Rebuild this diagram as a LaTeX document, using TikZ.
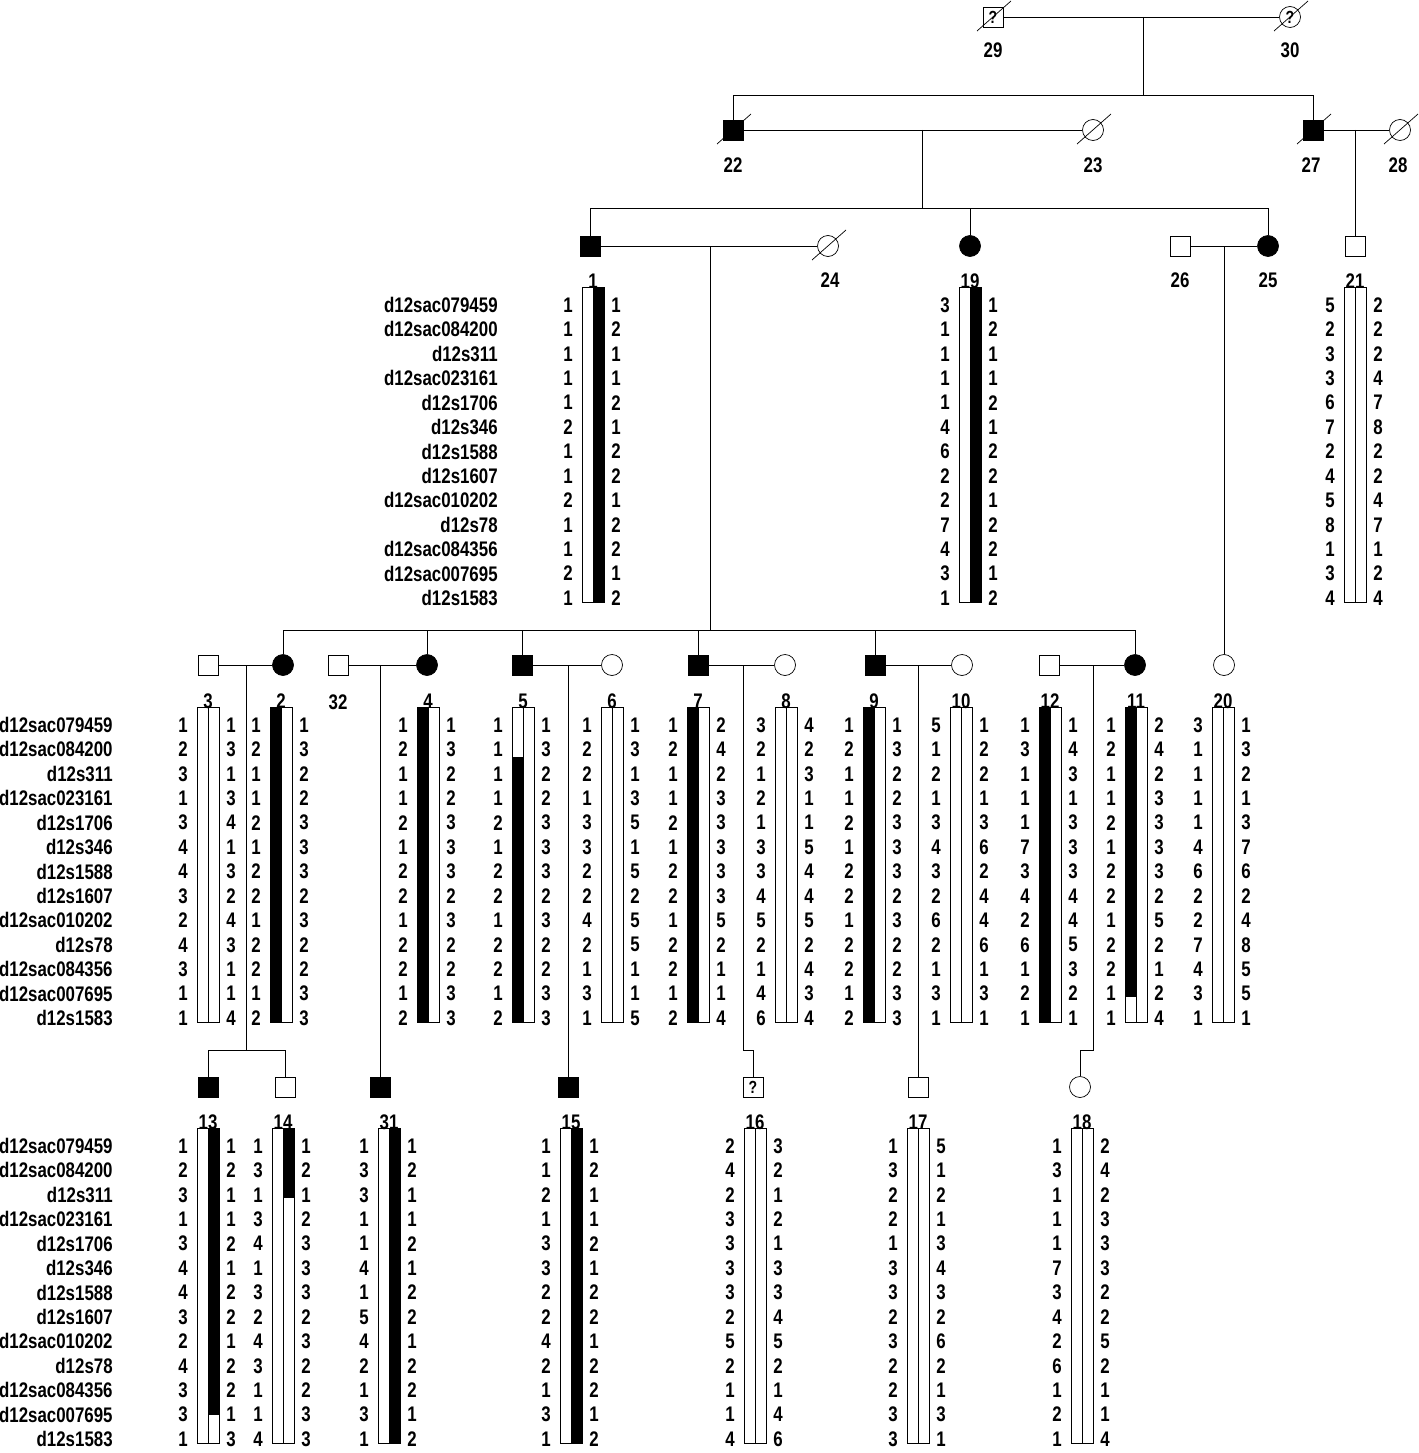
\documentclass[tikz,border=0pt]{standalone}
\usepackage{fontspec}
\setmainfont{Liberation Sans}[FakeStretch=0.8]
\usetikzlibrary{positioning}

\tikzset{
  every node/.append style={font=\fontsize{12}{12}\bfseries\selectfont},
  male/.style={draw,rectangle,minimum size=0.4cm,inner sep=0pt},
  female/.style={draw,circle,minimum size=0.42cm,inner sep=0pt},
  aff/.style={fill=black},
  qm/.style={font=\fontsize{10}{10}\bfseries\selectfont},
  bar/.style={draw,fill=white,line width=0.5pt},
  al/.style={inner sep=0pt},
  lab/.style={inner sep=0pt},
  mk/.style={inner sep=0pt,anchor=east}
}
% haplotype: split x, first row y, left alleles, right alleles, name, label
\newcommand{\hap}[6]{%
  \draw[bar] (#1-11,#2-18) rectangle (#1,#2+297);
  \draw[bar] (#1,#2-18) rectangle (#1+11,#2+297);
  \foreach \a [count=\i from 0] in {#3} \node[al] at (#1-25,#2+\i*24.42) {\a};
  \foreach \a [count=\i from 0] in {#4} \node[al] at (#1+23,#2+\i*24.42) {\a};
  \node[lab] (#5) at (#1,#2-24) {#6};}
\newcommand{\markers}[2]{%
  \foreach \m [count=\i from 0] in {d12sac079459,d12sac084200,d12s311,d12sac023161,d12s1706,d12s346,d12s1588,d12s1607,d12sac010202,d12s78,d12sac084356,d12sac007695,d12s1583}
    \node[mk] at (#1,#2+\i*24.42) {\m};}
\newcommand{\dec}[1]{\draw (#1.center) ++(-16,14) -- ++(34,-30);}

\begin{document}
\begin{tikzpicture}[x=0.02cm,y=-0.02cm]
\useasboundingbox (0,0) rectangle (1419,1453);
% generation I and II
\node[male,qm] (p29) at (993,17) {?};
\node[female,qm] (p30) at (1290,17) {?};
\dec{p29} \dec{p30}
\node[male,aff] (p22) at (733,130) {};
\node[female] (p23) at (1093,130) {};
\node[male,aff] (p27) at (1313,130) {};
\node[female] (p28) at (1400,130) {};
\dec{p22} \dec{p23} \dec{p27} \dec{p28}
\node[lab] at (993,50) {29};
\node[lab] at (1290,50) {30};
\node[lab] at (733,165) {22};
\node[lab] at (1093,165) {23};
\node[lab] at (1311,165) {27};
\node[lab] at (1398,165) {28};
% generation III
\node[male,aff] (p1) at (590,246) {};
\node[female] (p24) at (828,246) {};
\dec{p24}
\node[female,aff] (p19) at (970,246) {};
\node[male] (p26) at (1180,246) {};
\node[female,aff] (p25) at (1268,246) {};
\node[male] (p21) at (1355,246) {};
\node[lab] at (830,280) {24};
\node[lab] at (1180,280) {26};
\node[lab] at (1268,280) {25};
% generation IV
\node[male] (p3) at (208,665) {};
\node[female,aff] (p2) at (283,665) {};
\node[male] (p32) at (338,665) {};
\node[female,aff] (p4) at (427,665) {};
\node[male,aff] (p5) at (522,665) {};
\node[female] (p6) at (612,665) {};
\node[male,aff] (p7) at (698,665) {};
\node[female] (p8) at (785,665) {};
\node[male,aff] (p9) at (875,665) {};
\node[female] (p10) at (962,665) {};
\node[male] (p12) at (1049,665) {};
\node[female,aff] (p11) at (1135,665) {};
\node[female] (p20) at (1224,665) {};
\node[lab] at (338,702) {32};
% generation V
\node[male,aff] (p13) at (208,1087) {};
\node[male] (p14) at (285,1087) {};
\node[male,aff] (p31) at (380,1087) {};
\node[male,aff] (p15) at (568,1087) {};
\node[male,qm] (p16) at (753,1087) {?};
\node[male] (p17) at (918,1087) {};
\node[female] (p18) at (1080,1087) {};
% lines
\coordinate (r1) at (0,95);
\coordinate (r2) at (0,208);
\coordinate (r3) at (0,630);
\coordinate (r4) at (0,1050);
\draw (p29) -- (p30);
\draw (1143,17) -- (1143,95);
\draw (p22) |- (p27 |- r1) -- (p27);
\draw (p22) -- (p23);
\draw (922,130) -- (922,208);
\draw (p1) |- (p25 |- r2) -- (p25);
\draw (p19) -- (p19 |- r2);
\draw (p27) -- (p28);
\draw (1355,130) -- (p21);
\draw (p1) -- (p24);
\draw (710,246) -- (710,630);
\draw (p2) |- (p11 |- r3) -- (p11);
\foreach \c in {p4,p5,p7,p9} \draw (\c) -- (\c |- r3);
\draw (p26) -- (p25);
\draw (1224,246) -- (p20);
\draw (p3) -- (p2);
\draw (246,665) -- (246,1050);
\draw (p13) |- (p14 |- r4) -- (p14);
\draw (p32) -- (p4);
\draw (380,665) -- (p31);
\draw (p5) -- (p6);
\draw (568,665) -- (p15);
\draw (p7) -- (p8);
\draw (743,665) -- (743,1050) -| (p16);
\draw (p9) -- (p10);
\draw (918,665) -- (p17);
\draw (p12) -- (p11);
\draw (1093,665) -- (1093,1050) -| (p18);
% marker names
\markers{498}{305}
\markers{113}{725}
\markers{113}{1146}
% haplotypes generation III
\hap{593}{305}{1,1,1,1,1,2,1,1,2,1,1,2,1}{1,2,1,1,2,1,2,2,1,2,2,1,2}{h1}{1}
\fill (593,287) rectangle (604,602);
\hap{970}{305}{3,1,1,1,1,4,6,2,2,7,4,3,1}{1,2,1,1,2,1,2,2,1,2,2,1,2}{h19}{19}
\fill (970,287) rectangle (981,602);
\hap{1355}{305}{5,2,3,3,6,7,2,4,5,8,1,3,4}{2,2,2,4,7,8,2,2,4,7,1,2,4}{h21}{21}
% haplotypes generation IV
\hap{208}{725}{1,2,3,1,3,4,4,3,2,4,3,1,1}{1,3,1,3,4,1,3,2,4,3,1,1,4}{h3}{3}
\hap{281}{725}{1,2,1,1,2,1,2,2,1,2,2,1,2}{1,3,2,2,3,3,3,2,3,2,2,3,3}{h2}{2}
\fill (270,707) rectangle (281,1022);
\hap{428}{725}{1,2,1,1,2,1,2,2,1,2,2,1,2}{1,3,2,2,3,3,3,2,3,2,2,3,3}{h4}{4}
\fill (417,707) rectangle (428,1022);
\hap{523}{725}{1,1,1,1,2,1,2,2,1,2,2,1,2}{1,3,2,2,3,3,3,2,3,2,2,3,3}{h5}{5}
\fill (512,757) rectangle (523,1022);
\hap{612}{725}{1,2,2,1,3,3,2,2,4,2,1,3,1}{1,3,1,3,5,1,5,2,5,5,1,1,5}{h6}{6}
\hap{698}{725}{1,2,1,1,2,1,2,2,1,2,2,1,2}{2,4,2,3,3,3,3,3,5,2,1,1,4}{h7}{7}
\fill (687,707) rectangle (698,1022);
\hap{786}{725}{3,2,1,2,1,3,3,4,5,2,1,4,6}{4,2,3,1,1,5,4,4,5,2,4,3,4}{h8}{8}
\hap{874}{725}{1,2,1,1,2,1,2,2,1,2,2,1,2}{1,3,2,2,3,3,3,2,3,2,2,3,3}{h9}{9}
\fill (863,707) rectangle (874,1022);
\hap{961}{725}{5,1,2,1,3,4,3,2,6,2,1,3,1}{1,2,2,1,3,6,2,4,4,6,1,3,1}{h10}{10}
\hap{1050}{725}{1,3,1,1,1,7,3,4,2,6,1,2,1}{1,4,3,1,3,3,3,4,4,5,3,2,1}{h12}{12}
\fill (1039,707) rectangle (1050,1022);
\hap{1136}{725}{1,2,1,1,2,1,2,2,1,2,2,1,1}{2,4,2,3,3,3,3,2,5,2,1,2,4}{h11}{11}
\fill (1125,707) rectangle (1136,997);
\hap{1223}{725}{3,1,1,1,1,4,6,2,2,7,4,3,1}{1,3,2,1,3,7,6,2,4,8,5,5,1}{h20}{20}
% haplotypes generation V
\hap{208}{1146}{1,2,3,1,3,4,4,3,2,4,3,3,1}{1,2,1,1,2,1,2,2,1,2,2,1,3}{h13}{13}
\fill (208,1128) rectangle (219,1415);
\hap{283}{1146}{1,3,1,3,4,1,3,2,4,3,1,1,4}{1,2,1,2,3,3,3,2,3,2,2,3,3}{h14}{14}
\fill (283,1128) rectangle (294,1198);
\hap{389}{1146}{1,3,3,1,1,4,1,5,4,2,1,3,1}{1,2,1,1,2,1,2,2,1,2,2,1,2}{h31}{31}
\fill (389,1128) rectangle (400,1443);
\hap{571}{1146}{1,1,2,1,3,3,2,2,4,2,1,3,1}{1,2,1,1,2,1,2,2,1,2,2,1,2}{h15}{15}
\fill (571,1128) rectangle (582,1443);
\hap{755}{1146}{2,4,2,3,3,3,3,2,5,2,1,1,4}{3,2,1,2,1,3,3,4,5,2,1,4,6}{h16}{16}
\hap{918}{1146}{1,3,2,2,1,3,3,2,3,2,2,3,3}{5,1,2,1,3,4,3,2,6,2,1,3,1}{h17}{17}
\hap{1082}{1146}{1,3,1,1,1,7,3,4,2,6,1,2,1}{2,4,2,3,3,3,2,2,5,2,1,1,4}{h18}{18}
\end{tikzpicture}
\end{document}
